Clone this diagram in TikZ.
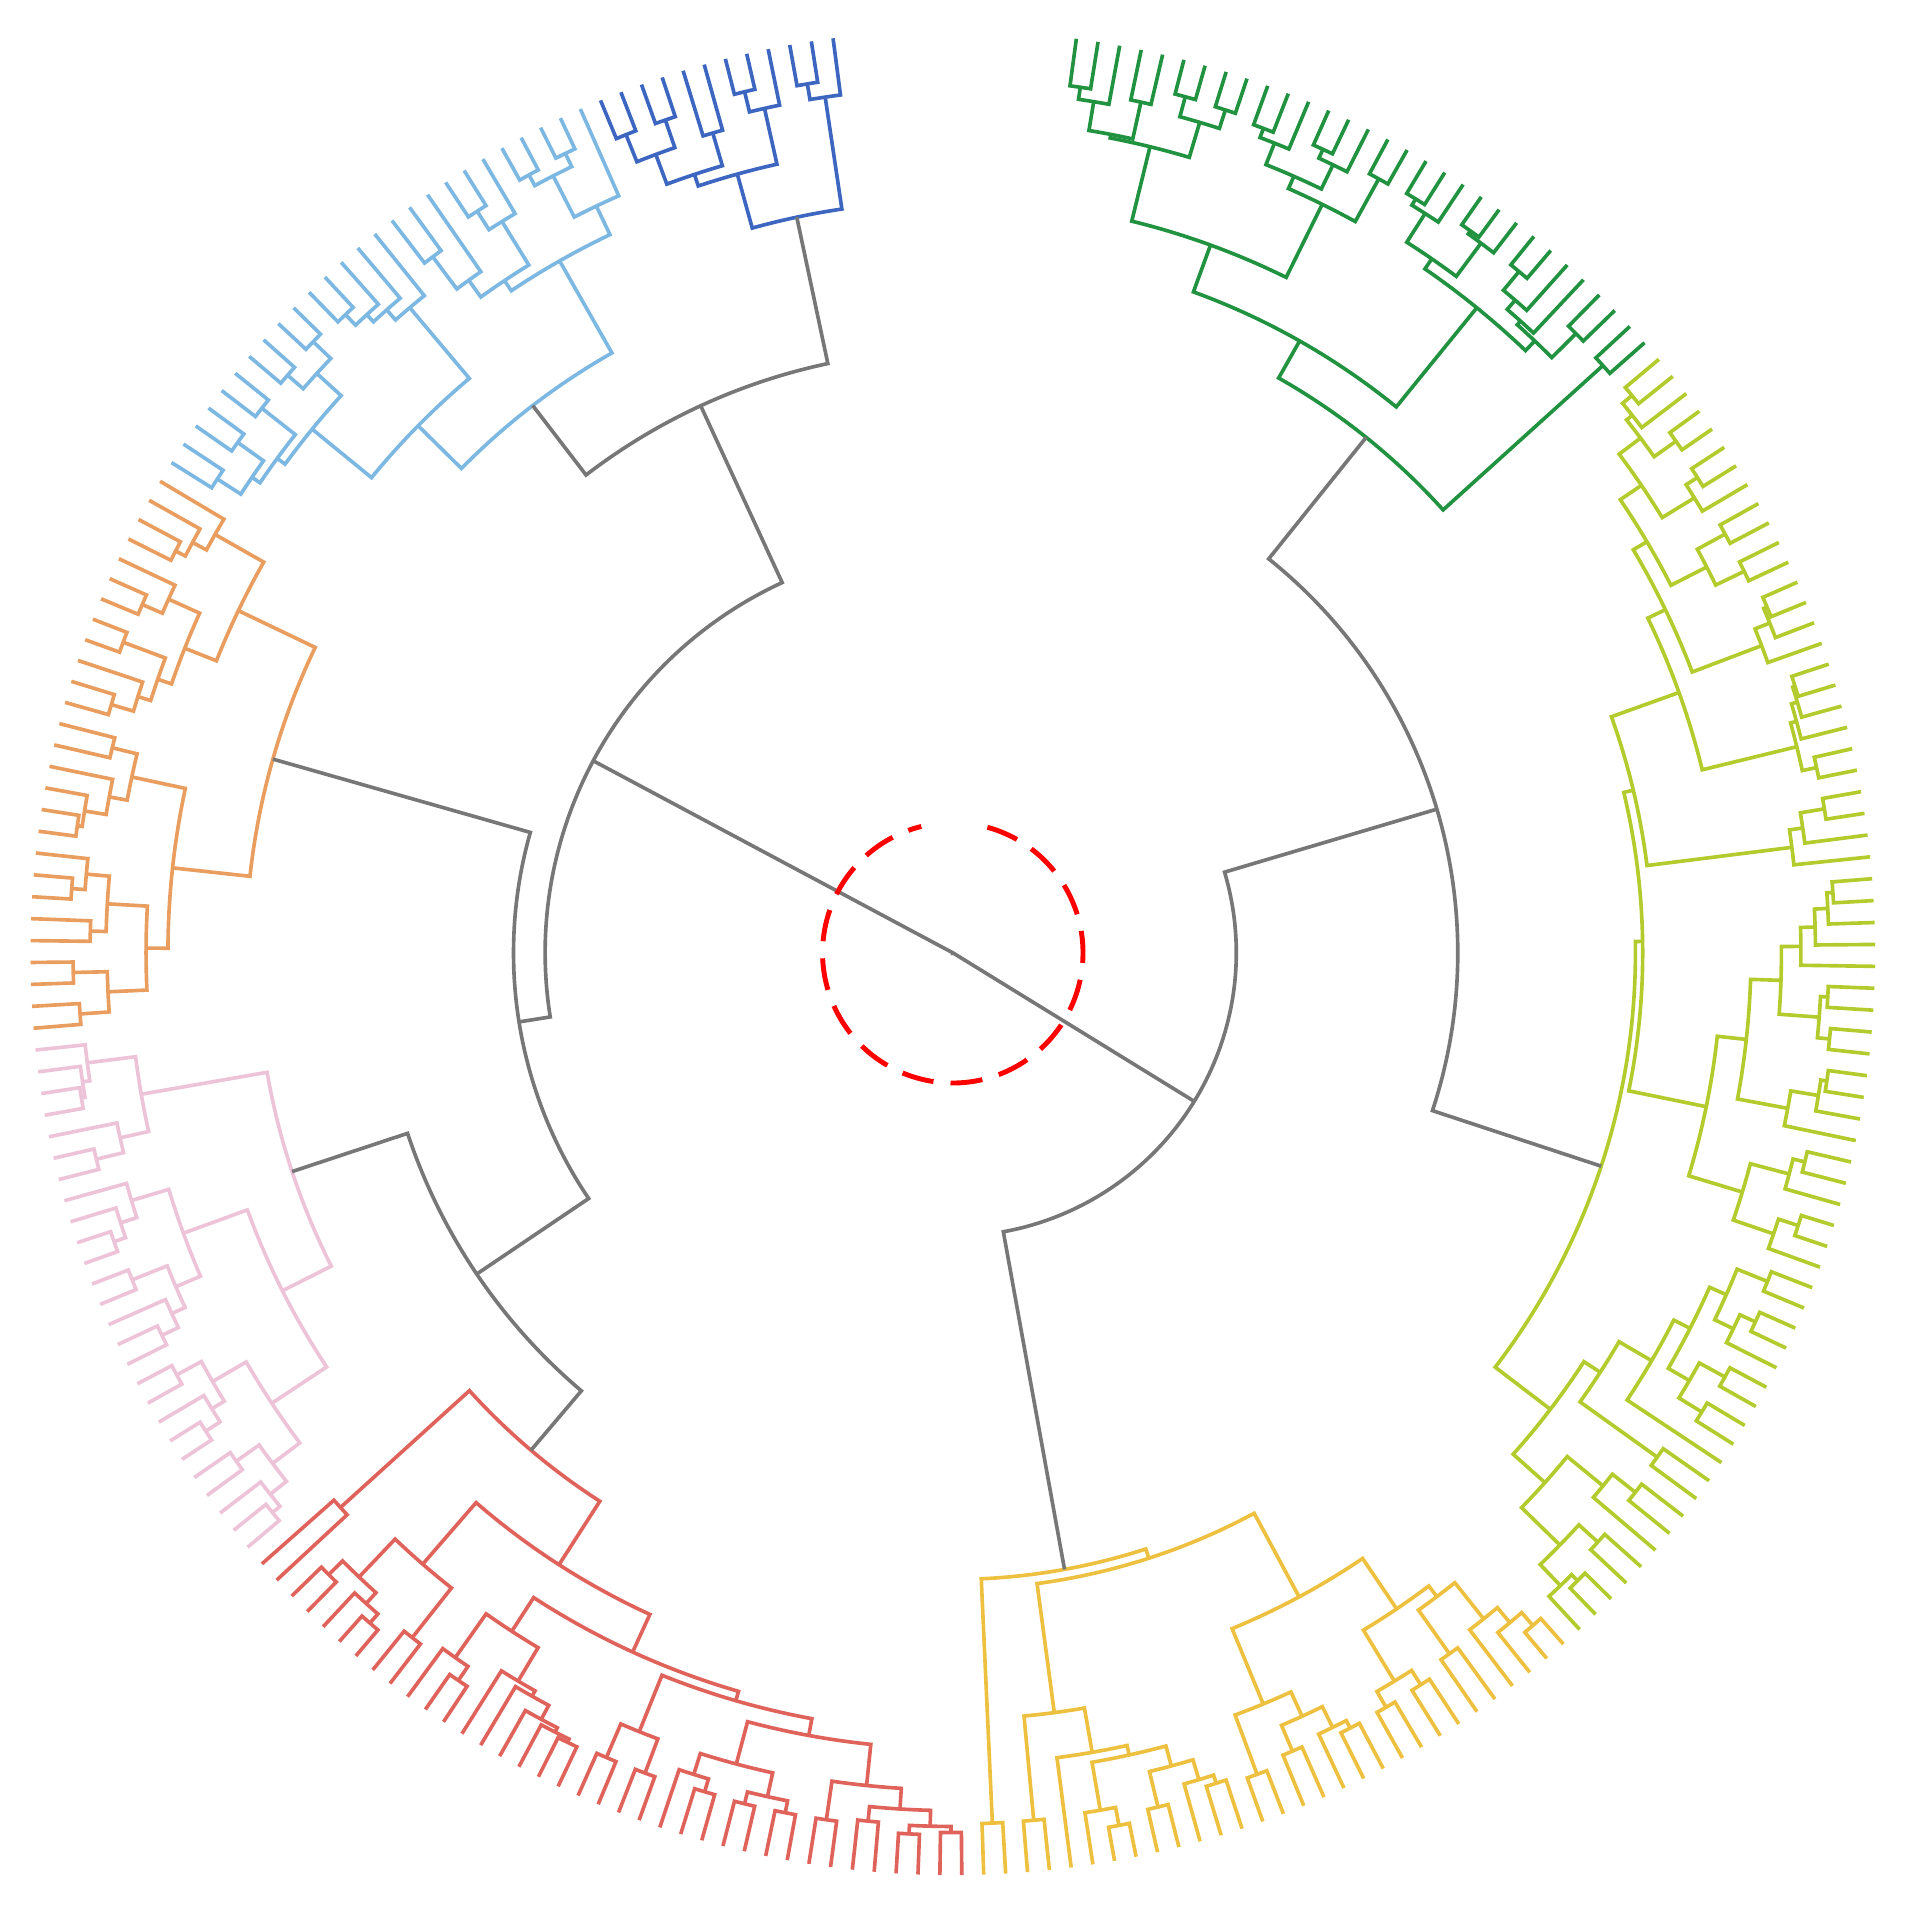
\documentclass[tikz,border=0pt]{standalone}
\definecolor{cgray}{HTML}{777777}
\definecolor{cgreen}{HTML}{21923F}
\definecolor{cyg}{HTML}{B3CB2D}
\definecolor{cyel}{HTML}{EEC03F}
\definecolor{cred}{HTML}{E0635B}
\definecolor{cpink}{HTML}{EDC3D8}
\definecolor{corange}{HTML}{E99D5F}
\definecolor{clblue}{HTML}{7DB8E3}
\definecolor{cdblue}{HTML}{3D66C1}

\newcount\stk
\newcount\lfn
% push the next leaf
\newcommand\lf{%
  \global\advance\stk by 1
  \pgfmathsetmacro\lfa{82.3-1.363*\the\lfn}%
  \global\advance\lfn by 1
  \expandafter\xdef\csname sa\the\stk\endcsname{\lfa}%
  \expandafter\xdef\csname sr\the\stk\endcsname{7.58}}
% join the two top entries at radius #1 (in px/100 cm)
\newcommand\jn[1]{%
  \edef\aB{\csname sa\the\stk\endcsname}%
  \edef\rB{\csname sr\the\stk\endcsname}%
  \global\advance\stk by -1
  \edef\aA{\csname sa\the\stk\endcsname}%
  \edef\rA{\csname sr\the\stk\endcsname}%
  \pgfmathsetmacro\rP{#1/100}%
  \draw[lnk] (\aA:\rA) -- (\aA:\rP) arc[start angle=\aA, end angle=\aB, radius=\rP cm] -- (\aB:\rB);
  \pgfmathsetmacro\aP{(\aA+\aB)/2}%
  \expandafter\xdef\csname sa\the\stk\endcsname{\aP}%
  \expandafter\xdef\csname sr\the\stk\endcsname{\rP}}
\newcommand\pr[1]{\lf\lf\jn{#1}}

\begin{document}
\begin{tikzpicture}[lnk/.style={brc, line width=0.85pt}]
  \useasboundingbox (-7.83,-7.84) rectangle (7.85,7.83);
  % green
  \colorlet{brc}{cgreen}
  \pr{719}\lf\jn{709}\pr{716}\jn{685}\pr{729}\pr{728}\jn{712}\jn{682}
  \pr{724}\lf\jn{716}\pr{727}\lf\jn{719}\jn{697}\pr{726}\jn{686}
  \jn{619}
  \pr{727}\lf\jn{721}\pr{730}\lf\jn{727}\jn{693}
  \pr{728}\lf\jn{708}\lf\jn{698}\pr{722}\jn{694}
  \jn{683}\jn{578}
  \pr{720}\jn{543}
  % yellow-green
  \colorlet{brc}{cyg}
  \pr{722}\lf\jn{712}\pr{728}\jn{706}\pr{726}\lf\jn{715}\jn{684}
  \pr{722}\pr{722}\jn{696}\jn{663}
  \pr{727}\lf\jn{724}\lf\jn{711}\jn{650}
  \pr{726}\lf\jn{724}\lf\jn{719}\pr{726}\jn{714}\jn{634}
  \pr{726}\lf\jn{706}\lf\jn{695}\jn{575}
  \pr{725}\lf\jn{720}\lf\jn{709}\lf\jn{697}\pr{720}\pr{724}\jn{714}\jn{681}
  \pr{726}\lf\jn{721}\lf\jn{698}\jn{656}
  \pr{721}\lf\jn{711}\pr{730}\lf\jn{713}\jn{678}
  \jn{632}\jn{567}
  \pr{722}\pr{726}\lf\jn{712}\jn{695}\pr{724}\pr{722}\jn{700}\jn{680}
  \lf\jn{665}\pr{712}\jn{634}
  \pr{715}\lf\jn{691}\pr{718}\pr{728}\lf\jn{721}\jn{697}\jn{653}
  \jn{618}\jn{561}
  \colorlet{brc}{cgray}
  \jn{415}
  % yellow
  \colorlet{brc}{cyel}
  \pr{730}\lf\jn{716}\lf\jn{700}\pr{706}\jn{662}
  \pr{714}\pr{715}\jn{700}\jn{651}
  \pr{716}\lf\jn{709}\pr{713}\jn{690}\pr{720}\jn{668}
  \jn{601}
  \pr{716}\lf\jn{709}\pr{722}\jn{692}\pr{730}\lf\jn{715}\jn{675}
  \lf\jn{667}\pr{716}\jn{630}
  \jn{523}
  \pr{716}\jn{515}
  \colorlet{brc}{cgray}
  \jn{233}
  % red
  \colorlet{brc}{cred}
  \pr{723}\pr{725}\jn{718}\pr{717}\jn{705}\pr{720}\jn{688}
  \pr{720}\pr{720}\jn{710}\pr{719}\lf\jn{708}\jn{690}
  \jn{654}
  \pr{720}\pr{720}\jn{690}\jn{640}
  \pr{722}\lf\jn{719}\lf\jn{715}\lf\jn{702}\lf\jn{697}
  \pr{723}\lf\jn{709}\jn{665}
  \jn{632}
  \pr{717}\pr{730}\lf\jn{720}\pr{724}\jn{708}\jn{665}
  \jn{598}
  \pr{679}\jn{536}
  % pink
  \colorlet{brc}{cpink}
  \pr{724}\lf\jn{716}\pr{722}\jn{699}
  \pr{729}\lf\jn{715}\pr{726}\jn{703}\jn{671}
  \pr{722}\lf\jn{707}\pr{726}\jn{695}
  \pr{729}\lf\jn{719}\lf\jn{705}\jn{673}
  \jn{617}
  \pr{724}\lf\jn{701}\pr{726}\lf\jn{723}\lf\jn{717}\jn{677}
  \jn{572}
  \colorlet{brc}{cgray}
  \jn{472}
  % orange
  \colorlet{brc}{corange}
  \pr{719}\pr{723}\jn{695}\pr{709}\pr{726}\lf\jn{715}\jn{696}\jn{663}
  \pr{727}\lf\jn{723}\lf\jn{705}\pr{711}\jn{690}
  \jn{645}
  \pr{721}\lf\jn{702}\pr{728}\jn{691}\pr{725}\lf\jn{707}\jn{679}
  \pr{719}\lf\jn{710}\lf\jn{697}
  \jn{651}\jn{581}
  \colorlet{brc}{cgray}
  \jn{361}
  % light blue
  \colorlet{brc}{clblue}
  \pr{719}\pr{722}\jn{696}\pr{723}\jn{688}\pr{724}\pr{727}\jn{707}\jn{680}
  \pr{724}\lf\jn{712}\lf\jn{704}\lf\jn{693}
  \jn{617}
  \pr{714}\lf\jn{681}\pr{724}\lf\jn{706}\jn{664}
  \pr{728}\pr{730}\jn{718}\lf\jn{680}
  \jn{654}\jn{567}
  % dark blue
  \colorlet{brc}{cdblue}
  \pr{724}\pr{724}\jn{700}\pr{702}\jn{674}\pr{728}\lf\jn{711}\jn{664}
  \pr{724}\lf\jn{711}\jn{618}
  \colorlet{brc}{cgray}
  \jn{495}\jn{335}\jn{0.5}
  % cut circle
  \draw[red, line width=1.15pt, dash pattern=on 7.5pt off 4pt] (74.6:1.07) arc[start angle=74.6, end angle=-256, radius=1.07cm];
\end{tikzpicture}
\end{document}
